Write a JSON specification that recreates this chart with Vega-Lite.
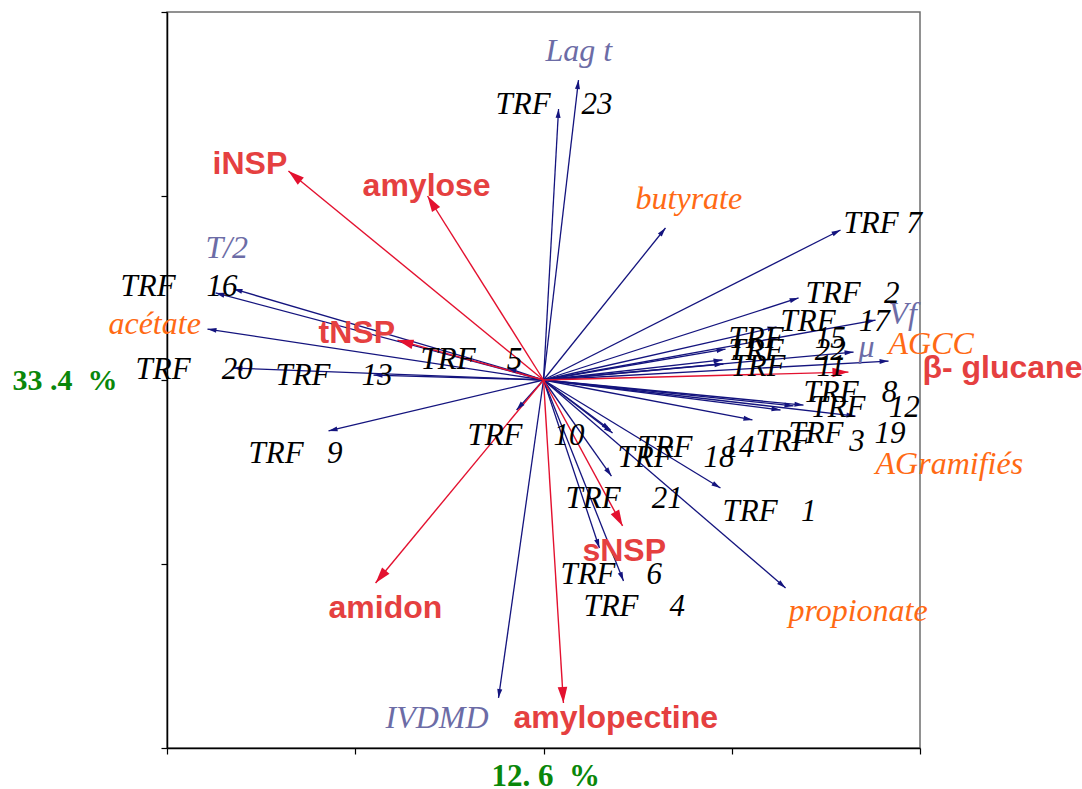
{
  "$schema": "https://vega.github.io/schema/vega-lite/v6.json",
  "autosize": "none",
  "width": 753,
  "height": 736,
  "padding": {"left": 167, "top": 12, "right": 162, "bottom": 41},
  "background": "white",
  "config": {"view": {"stroke": "#6e6e6e", "strokeWidth": 1.5}},
  "data": {"values": [
    {"label": "TRF\u00a0\u00a0\u00a0\u00a023", "type": "trf", "x": 0.080, "y": 1.473, "lx": -0.255, "ly": 1.446},
    {"label": "Lag t", "type": "var", "x": 0.186, "y": 1.630, "lx": 0.011, "ly": 1.734},
    {"label": "butyrate", "type": "acid", "x": 0.648, "y": 0.826, "lx": 0.489, "ly": 0.929},
    {"label": "TRF 7", "type": "trf", "x": 1.578, "y": 0.815, "lx": 1.594, "ly": 0.799},
    {"label": "TRF\u00a0\u00a0\u00a02", "type": "trf", "x": 1.355, "y": 0.446, "lx": 1.392, "ly": 0.418},
    {"label": "TRF\u00a0\u00a0\u00a017", "type": "trf", "x": 1.238, "y": 0.288, "lx": 1.259, "ly": 0.266},
    {"label": "Vf", "type": "var", "x": 1.764, "y": 0.326, "lx": 1.833, "ly": 0.304},
    {"label": "TRF\u00a0\u00a0\u00a0\u00a015", "type": "trf", "x": 0.967, "y": 0.168, "lx": 0.983, "ly": 0.174},
    {"label": "TRF\u00a0\u00a0\u00a0\u00a022", "type": "trf", "x": 0.951, "y": 0.109, "lx": 0.983, "ly": 0.109},
    {"label": "TRF\u00a0\u00a0\u00a0\u00a011", "type": "trf", "x": 0.956, "y": 0.087, "lx": 0.993, "ly": 0.022},
    {"label": "μ", "type": "var", "x": 1.647, "y": 0.152, "lx": 1.673, "ly": 0.125},
    {"label": "AGCC", "type": "acid", "x": 1.833, "y": 0.103, "lx": 1.833, "ly": 0.141},
    {"label": "TRF\u00a0\u00a0\u00a08", "type": "trf", "x": 1.381, "y": -0.136, "lx": 1.381, "ly": -0.120},
    {"label": "TRF\u00a0\u00a0\u00a012", "type": "trf", "x": 1.328, "y": -0.141, "lx": 1.418, "ly": -0.201},
    {"label": "TRF\u00a0\u00a0\u00a0\u00a019", "type": "trf", "x": 1.259, "y": -0.163, "lx": 1.301, "ly": -0.342},
    {"label": "AGramifiés", "type": "acid", "x": 1.657, "y": -0.196, "lx": 1.764, "ly": -0.511},
    {"label": "TRF\u00a0\u00a0\u00a0\u00a0\u00a03", "type": "trf", "x": 1.110, "y": -0.217, "lx": 1.126, "ly": -0.386},
    {"label": "TRF\u00a0\u00a0\u00a0\u00a018", "type": "trf", "x": 0.367, "y": -0.288, "lx": 0.393, "ly": -0.473},
    {"label": "TRF\u00a0\u00a0\u00a0\u00a014", "type": "trf", "x": 0.356, "y": -0.272, "lx": 0.499, "ly": -0.418},
    {"label": "TRF\u00a0\u00a0\u00a0\u00a021", "type": "trf", "x": 0.361, "y": -0.522, "lx": 0.117, "ly": -0.696},
    {"label": "TRF\u00a0\u00a0\u00a01", "type": "trf", "x": 0.940, "y": -0.587, "lx": 0.951, "ly": -0.766},
    {"label": "propionate", "type": "acid", "x": 1.286, "y": -1.130, "lx": 1.301, "ly": -1.310},
    {"label": "TRF\u00a0\u00a0\u00a0\u00a06", "type": "trf", "x": 0.297, "y": -0.913, "lx": 0.090, "ly": -1.109},
    {"label": "TRF\u00a0\u00a0\u00a0\u00a04", "type": "trf", "x": 0.425, "y": -1.092, "lx": 0.212, "ly": -1.283},
    {"label": "IVDMD", "type": "var", "x": -0.239, "y": -1.728, "lx": -0.839, "ly": -1.891},
    {"label": "TRF\u00a0\u00a0\u00a0\u00a010", "type": "trf", "x": -0.143, "y": -0.163, "lx": -0.404, "ly": -0.353},
    {"label": "TRF\u00a0\u00a0\u00a09", "type": "trf", "x": -1.142, "y": -0.277, "lx": -1.567, "ly": -0.451},
    {"label": "TRF\u00a0\u00a0\u00a0\u00a013", "type": "trf", "x": -0.903, "y": 0.027, "lx": -1.424, "ly": -0.027},
    {"label": "TRF\u00a0\u00a0\u00a0\u00a020", "type": "trf", "x": -1.647, "y": 0.065, "lx": -2.167, "ly": 0.005},
    {"label": "TRF\u00a0\u00a0\u00a0\u00a05", "type": "trf", "x": -0.191, "y": 0.065, "lx": -0.653, "ly": 0.060},
    {"label": "acétate", "type": "acid", "x": -1.785, "y": 0.277, "lx": -2.311, "ly": 0.250},
    {"label": "TRF\u00a0\u00a0\u00a0\u00a016", "type": "trf", "x": -1.742, "y": 0.473, "lx": -2.247, "ly": 0.457},
    {"label": "T/2", "type": "var", "x": -1.647, "y": 0.495, "lx": -1.796, "ly": 0.663},
    {"label": "iNSP", "type": "chem", "x": -1.355, "y": 1.136, "lx": -1.758, "ly": 1.120},
    {"label": "amylose", "type": "chem", "x": -0.616, "y": 1.000, "lx": -0.961, "ly": 1.000},
    {"label": "tNSP", "type": "chem", "x": -0.776, "y": 0.217, "lx": -1.195, "ly": 0.201},
    {"label": "β- glucane", "type": "chem", "x": 1.620, "y": 0.043, "lx": 2.013, "ly": 0.011},
    {"label": "sNSP", "type": "chem", "x": 0.420, "y": -0.793, "lx": 0.207, "ly": -0.984},
    {"label": "amidon", "type": "chem", "x": -0.892, "y": -1.103, "lx": -1.142, "ly": -1.293},
    {"label": "amylopectine", "type": "chem", "x": 0.106, "y": -1.755, "lx": -0.159, "ly": -1.891}
  ]},
  "transform": [
    {"calculate": "atan2(datum.x * 188.25, datum.y * 184) * 180 / PI", "as": "ang"}
  ],
  "encoding": {
    "x": {"field": "x", "type": "quantitative",
      "scale": {"domain": [-2, 2], "nice": false, "zero": false},
      "axis": {"values": [-2, -1, 0, 1, 2], "labels": false, "grid": false,
        "domainColor": "#000", "domainWidth": 1.5, "tickColor": "#000", "tickSize": 6, "tickWidth": 1.2,
        "title": "12. 6\u00a0 %", "titleFont": "Liberation Serif", "titleFontWeight": "bold", "titleFontSize": 31,
        "titleColor": "#0a870a", "titleAlign": "left", "titleBaseline": "alphabetic", "titleX": 324, "titleY": 37, "titleAnchor": null}},
    "y": {"field": "y", "type": "quantitative",
      "scale": {"domain": [-2, 2], "nice": false, "zero": false},
      "axis": {"values": [-2, -1, 0, 1, 2], "labels": false, "grid": false,
        "domainColor": "#000", "domainWidth": 1.5, "tickColor": "#000", "tickSize": 6, "tickWidth": 1.2,
        "title": "33 .4\u00a0 %", "titleFont": "Liberation Serif", "titleFontWeight": "bold", "titleFontSize": 30,
        "titleColor": "#0a870a", "titleAngle": 0, "titleAlign": "left", "titleBaseline": "alphabetic", "titleX": -155, "titleY": 377}}
  },
  "layer": [
    {
      "data": {"values": [{}]},
      "mark": {"type": "rule", "color": "#222", "strokeWidth": 1, "strokeDash": [4, 2]},
      "encoding": {"x": {"datum": 0}, "y": null}
    },
    {
      "data": {"values": [{}]},
      "mark": {"type": "rule", "color": "#222", "strokeWidth": 1, "strokeDash": [4, 2]},
      "encoding": {"y": {"datum": 0}, "x": null}
    },
    {
      "transform": [{"filter": "datum.type != 'chem'"}],
      "mark": {"type": "rule", "color": "#14147e", "strokeWidth": 1.3},
      "encoding": {"x2": {"datum": 0}, "y2": {"datum": 0}}
    },
    {
      "transform": [{"filter": "datum.type == 'chem'"}],
      "mark": {"type": "rule", "color": "#e3112f", "strokeWidth": 1.4},
      "encoding": {"x2": {"datum": 0}, "y2": {"datum": 0}}
    },
    {
      "transform": [{"filter": "datum.type != 'chem'"}],
      "mark": {"type": "point", "shape": "M0,0L0.28,1L-0.28,1Z", "filled": true, "color": "#14147e", "opacity": 1, "size": 324},
      "encoding": {"angle": {"field": "ang", "type": "quantitative", "scale": null}}
    },
    {
      "transform": [{"filter": "datum.type == 'chem'"}],
      "mark": {"type": "point", "shape": "M0,0L0.3,1L-0.3,1Z", "filled": true, "color": "#e3112f", "opacity": 1, "size": 1024},
      "encoding": {"angle": {"field": "ang", "type": "quantitative", "scale": null}}
    },
    {
      "transform": [{"filter": "datum.type == 'trf'"}],
      "mark": {"type": "text", "font": "Liberation Serif", "fontStyle": "italic", "fontSize": 31, "color": "#000", "align": "left", "baseline": "alphabetic"},
      "encoding": {"x": {"field": "lx", "type": "quantitative"}, "y": {"field": "ly", "type": "quantitative"}, "text": {"field": "label"}}
    },
    {
      "transform": [{"filter": "datum.type == 'acid'"}],
      "mark": {"type": "text", "font": "Liberation Serif", "fontStyle": "italic", "fontSize": 32, "color": "#ff6a14", "align": "left", "baseline": "alphabetic"},
      "encoding": {"x": {"field": "lx", "type": "quantitative"}, "y": {"field": "ly", "type": "quantitative"}, "text": {"field": "label"}}
    },
    {
      "transform": [{"filter": "datum.type == 'var'"}],
      "mark": {"type": "text", "font": "Liberation Serif", "fontStyle": "italic", "fontSize": 32, "color": "#6c6ca6", "align": "left", "baseline": "alphabetic"},
      "encoding": {"x": {"field": "lx", "type": "quantitative"}, "y": {"field": "ly", "type": "quantitative"}, "text": {"field": "label"}}
    },
    {
      "transform": [{"filter": "datum.type == 'chem'"}],
      "mark": {"type": "text", "font": "Liberation Sans", "fontWeight": "bold", "fontSize": 32, "color": "#e54040", "align": "left", "baseline": "alphabetic"},
      "encoding": {"x": {"field": "lx", "type": "quantitative"}, "y": {"field": "ly", "type": "quantitative"}, "text": {"field": "label"}}
    }
  ]
}
